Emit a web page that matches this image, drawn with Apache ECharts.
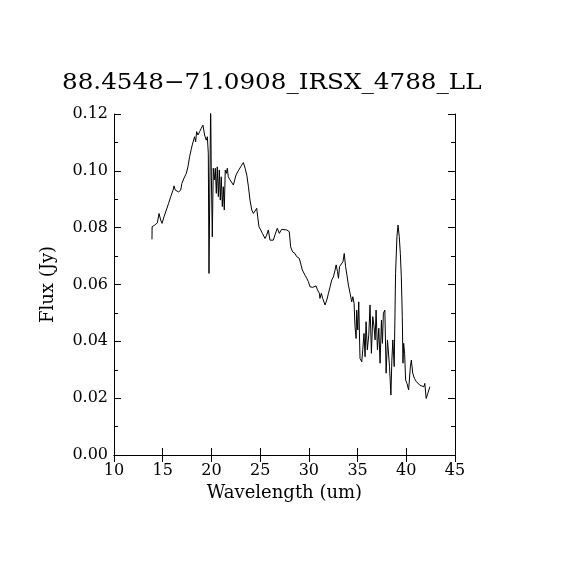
<!DOCTYPE html>
<html>
<head>
<meta charset="utf-8">
<script src="https://cdn.jsdelivr.net/npm/echarts@6/dist/echarts.min.js"></script>
<style>html,body{margin:0;padding:0;background:#fff}#c{width:570px;height:570px}</style>
</head>
<body>
<div id="c"></div>
<script>
const titleText = "88.4548\u221271.0908_IRSX_4788_LL";
const xLabel = "Wavelength (um)";
const yLabel = "Flux (Jy)";
const wavelength = [
13.90,13.91,14.18,14.45,14.62,14.79,14.93,15.13,15.37,15.61,15.82,16.06,16.16,16.29,16.43,16.63,16.84,16.97,17.18,17.42,
17.59,17.76,17.93,18.03,18.17,18.27,18.38,18.48,18.62,18.79,18.96,19.13,19.30,19.47,19.58,19.68,19.75,19.92,19.98,20.09,
20.19,20.30,20.40,20.50,20.60,20.71,20.81,20.91,21.01,21.12,21.22,21.32,21.42,21.53,21.63,21.73,21.91,22.08,22.25,22.35,
22.52,22.70,22.87,23.11,23.28,23.46,23.63,23.80,23.96,24.14,24.31,24.47,24.65,24.75,24.88,25.06,25.23,25.32,25.50,25.67,
25.84,26.01,26.35,26.52,26.76,26.97,27.20,27.38,27.72,27.99,28.13,28.33,28.58,28.75,29.02,29.16,29.33,29.60,29.78,29.95,
30.12,30.39,30.53,30.74,30.88,31.08,31.14,31.28,31.42,31.66,31.84,32.01,32.18,32.35,32.52,32.69,32.80,32.94,33.04,33.15,
33.32,33.50,33.63,33.77,33.91,34.06,34.23,34.40,34.51,34.64,34.74,34.85,34.91,35.02,35.12,35.25,35.43,35.53,35.66,35.77,
35.87,36.00,36.15,36.28,36.42,36.56,36.69,36.80,36.90,37.04,37.18,37.31,37.45,37.55,37.65,37.80,37.93,38.07,38.28,38.42,
38.52,38.62,38.76,38.90,39.04,39.15,39.28,39.39,39.49,39.59,39.66,39.73,39.83,39.93,40.07,40.24,40.42,40.52,40.66,40.83,
41.04,41.21,41.38,41.56,41.80,41.90,42.04,42.21,42.42
];
const flux = [
0.0759,0.0803,0.0809,0.0817,0.0850,0.0827,0.0815,0.0838,0.0862,0.0886,0.0909,0.0932,0.0947,0.0932,0.0938,0.0926,0.0932,0.0956,0.0974,0.0991,
0.1014,0.1050,0.1076,0.1091,0.1097,0.1120,0.1102,0.1138,0.1126,0.1138,0.1150,0.1161,0.1126,0.1108,0.1120,0.1062,0.0639,0.1240,0.1014,0.0768,
0.1009,0.0968,0.1009,0.0921,0.1014,0.0909,0.1003,0.0897,0.0979,0.0874,0.0944,0.0862,0.1003,0.0991,0.1009,0.0979,0.0968,0.0962,0.0950,0.0944,
0.0985,0.0997,0.1003,0.1020,0.1029,0.1009,0.0985,0.0944,0.0897,0.0862,0.0850,0.0856,0.0868,0.0838,0.0803,0.0792,0.0780,0.0786,0.0762,0.0774,
0.0792,0.0756,0.0756,0.0774,0.0798,0.0780,0.0794,0.0798,0.0792,0.0786,0.0733,0.0715,0.0709,0.0698,0.0692,0.0686,0.0651,0.0633,0.0622,0.0610,
0.0592,0.0590,0.0586,0.0595,0.0581,0.0569,0.0551,0.0569,0.0551,0.0528,0.0545,0.0569,0.0592,0.0616,0.0627,0.0651,0.0669,0.0645,0.0622,0.0663,
0.0669,0.0680,0.0709,0.0663,0.0633,0.0598,0.0569,0.0539,0.0557,0.0534,0.0451,0.0410,0.0510,0.0440,0.0539,0.0340,0.0328,0.0370,0.0428,0.0346,
0.0469,0.0370,0.0422,0.0528,0.0358,0.0487,0.0451,0.0405,0.0510,0.0370,0.0446,0.0323,0.0475,0.0393,0.0499,0.0510,0.0288,0.0405,0.0311,0.0211,
0.0334,0.0405,0.0311,0.0639,0.0768,0.0809,0.0768,0.0709,0.0627,0.0487,0.0323,0.0393,0.0358,0.0264,0.0252,0.0229,0.0311,0.0334,0.0288,0.0270,
0.0258,0.0252,0.0246,0.0246,0.0240,0.0252,0.0199,0.0217,0.0240
];
const xTicks = [10,15,20,25,30,35,40,45];
const yTicks = [0.00,0.02,0.04,0.06,0.08,0.10,0.12];

const font = "DejaVu Serif";
const chart = echarts.init(document.getElementById('c'), null, {renderer:'canvas'});
const pts = wavelength.map((w,i)=>[w, flux[i]]);
const axLine = {show:true, lineStyle:{color:'#000', width:1}};
const xBase = {type:'value', min:xTicks[0], max:xTicks[xTicks.length-1], interval:5,
  splitLine:{show:false}, axisLine:axLine, axisTick:{inside:true, length:7, lineStyle:{color:'#000'}}};
const yBase = {type:'value', min:yTicks[0], max:yTicks[yTicks.length-1], interval:0.02,
  splitLine:{show:false}, axisLine:axLine, axisTick:{inside:true, length:7, lineStyle:{color:'#000'}},
  minorTick:{show:true, splitNumber:2, length:4, lineStyle:{color:'#000'}}, minorSplitLine:{show:false}};
chart.setOption({
  animation:false,
  backgroundColor:'#fff',
  graphic:[{type:'text', x:62, y:83, scaleX:1.12, scaleY:1,
    style:{text:titleText, font:'22px "DejaVu Serif"', fill:'#000', textVerticalAlign:'middle', verticalAlign:'middle'}}],
  grid:{left:114, right:115, top:114, bottom:115, containLabel:false},
  xAxis:[
    Object.assign({}, xBase, {position:'bottom', name:xLabel, nameLocation:'middle', nameGap:29,
      nameTextStyle:{fontFamily:font, fontSize:18, color:'#000'},
      axisLabel:{margin:8, fontFamily:font, fontSize:16, color:'#000', formatter:v=>String(v)}}),
    Object.assign({}, xBase, {position:'top', axisLabel:{show:false}})
  ],
  yAxis:[
    Object.assign({}, yBase, {position:'left', name:yLabel, nameLocation:'middle', nameGap:57,
      nameTextStyle:{fontFamily:font, fontSize:18, color:'#000'},
      axisLabel:{margin:6, fontFamily:font, fontSize:16, color:'#000', formatter:v=>v.toFixed(2)}}),
    Object.assign({}, yBase, {position:'right', axisLabel:{show:false}})
  ],
  series:[{type:'line', data:pts, xAxisIndex:0, yAxisIndex:0, showSymbol:false, symbol:'none',
    clip:true, lineStyle:{color:'#000', width:1}, itemStyle:{color:'#000'}}]
});
</script>
</body>
</html>
